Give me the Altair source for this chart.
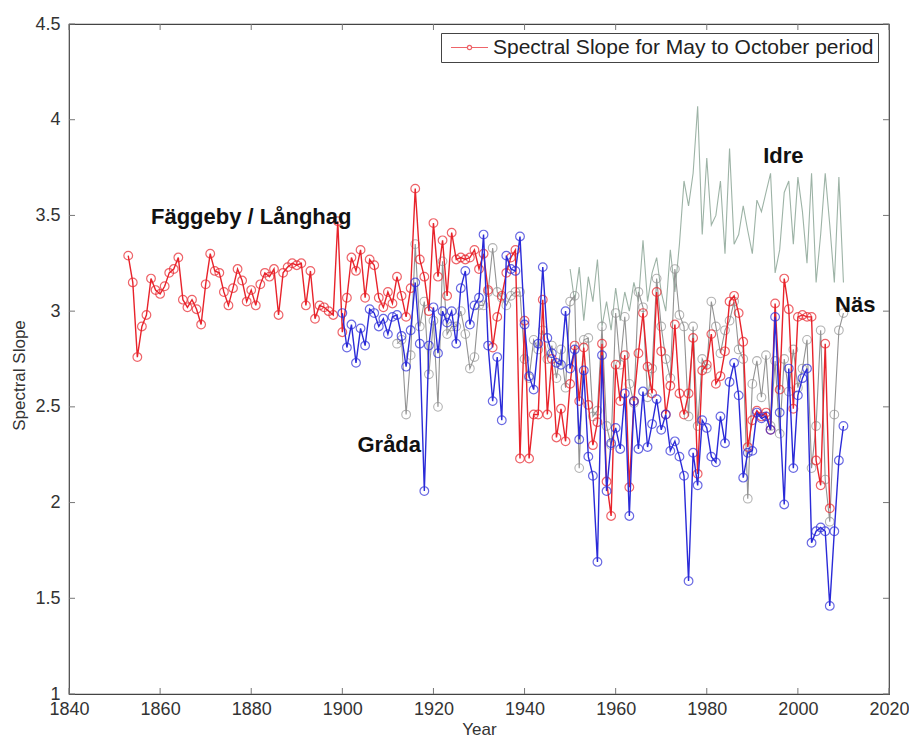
import altair as alt
import pandas as pd

# ---------------- data ----------------
red_years = list(range(1853, 2008))
red_values = [
    3.29, 3.15, 2.76, 2.92, 2.98, 3.17, 3.11,
    3.09, 3.13, 3.20, 3.22, 3.28, 3.06, 3.02, 3.06, 3.01, 2.93,
    3.14, 3.30, 3.21, 3.20, 3.10, 3.03, 3.12, 3.22, 3.16, 3.05,
    3.11, 3.03, 3.14, 3.20, 3.18, 3.22, 2.98, 3.20, 3.23, 3.25,
    3.24, 3.25, 3.03, 3.21, 2.96, 3.03, 3.02, 3.00, 2.98, 3.47,
    2.89, 3.07, 3.28, 3.21, 3.32, 3.07, 3.27, 3.24, 3.07, 3.02,
    3.10, 3.04, 3.18, 3.08, 2.97, 3.12, 3.64, 3.27, 3.18, 3.00,
    3.46, 3.18, 3.37, 3.08, 3.41, 3.27, 3.28, 3.27, 3.28, 3.32,
    3.22, 3.30, 3.11, 2.81, 2.97, 3.08, 3.20, 3.28, 3.32, 2.23,
    2.95, 2.23, 2.46, 2.46, 3.06, 2.46, 2.75, 2.34, 2.49, 2.32,
    2.62, 2.82, 2.53, 2.81, 2.51, 2.30, 2.42, 2.83, 2.11, 1.93,
    2.72, 2.53, 2.77, 2.08, 2.53, 2.78, 2.99, 2.71, 2.57, 3.10,
    2.79, 2.46, 2.61, 2.93, 2.57, 2.46, 2.57, 2.86, 2.15, 2.69,
    2.72, 2.88, 2.62, 2.66, 2.79, 3.05, 3.08, 2.99, 2.84, 2.29,
    2.43, 2.48, 2.45, 2.47, 2.38, 3.04, 2.59, 3.17, 3.01, 2.49,
    2.97, 2.98, 2.97, 2.97, 2.22, 2.09, 2.83, 1.97,
]

blue_years = list(range(1900, 2011))
blue_values = [
    2.99, 2.81, 2.93, 2.73, 2.91, 2.82, 3.01, 2.99, 2.92, 2.96,
    2.88, 2.97, 2.98, 2.87, 2.71, 2.90, 3.15, 2.83, 2.06, 2.82,
    3.02, 2.78, 3.00, 2.94, 3.00, 2.83, 3.12, 3.21, 2.93, 3.03,
    3.07, 3.40, 2.82, 2.53, 2.76, 2.43, 3.29, 3.22, 3.21, 3.39,
    2.93, 2.66, 2.59, 2.83, 3.23, 2.86, 2.78, 2.73, 2.72, 3.00,
    2.70, 2.80, 2.33, 2.69, 2.24, 2.14, 1.69, 2.77, 2.06, 2.31,
    2.39, 2.28, 2.57, 1.93, 2.53, 2.28, 2.58, 2.29, 2.41, 2.54,
    2.38, 2.46, 2.27, 2.32, 2.24, 2.14, 1.59, 2.26, 2.09, 2.43,
    2.39, 2.24, 2.21, 2.45, 2.31, 2.63, 2.73, 2.56, 2.13, 2.26,
    2.27, 2.47, 2.44, 2.45, 2.38, 2.97, 2.47, 1.99, 2.70, 2.18,
    2.56, 2.65, 2.70, 1.79, 1.85, 1.87, 1.85, 1.46, 1.85, 2.22, 2.40,
]

nas_years = list(range(1912, 2011))
nas_values = [
    2.83, 2.85, 2.46, 2.77, 3.35, 2.92, 3.05, 2.67,
    2.95, 2.50, 3.26, 2.88, 2.92, 2.92, 3.00, 2.88, 2.70, 2.76,
    3.03, 3.03, 3.10, 3.33, 3.10, 3.07, 3.03, 3.08, 3.10, 3.10,
    2.75, 2.65, 2.85, 2.80, 2.90, 2.75, 2.82, 2.65, 2.80, 2.60,
    3.05, 3.08, 2.18, 2.85, 2.86, 2.45, 2.48, 2.92, 2.40, 2.30,
    2.99, 2.72, 2.97, 2.62, 2.52, 3.10, 3.02, 2.55, 2.70, 3.17,
    2.92, 2.75, 2.65, 3.22, 2.98, 2.92, 2.45, 2.92, 2.40, 2.75,
    2.70, 3.05, 2.92, 2.78, 2.90, 2.95, 3.05, 2.80, 2.75, 2.02,
    2.62, 2.74, 2.55, 2.77, 2.40, 2.74, 2.36, 2.75, 2.58, 2.80,
    2.60, 2.70, 2.85, 2.18, 2.40, 2.90, 2.12, 1.90, 2.46, 2.90, 2.99,
]

idre_years = list(range(1950, 2011))
idre_values = [
    3.22, 3.05, 3.23, 2.95, 3.18, 3.05, 3.27, 2.92, 3.05, 2.90,
    3.12, 2.95, 3.10, 3.00, 3.15, 3.05, 3.37, 3.05, 3.20, 3.28,
    3.10, 3.00, 3.32, 3.10, 3.35, 3.68, 3.55, 3.72, 4.07, 3.40,
    3.80, 3.45, 3.50, 3.68, 3.30, 3.85, 3.35, 3.40, 3.55, 3.42,
    3.30, 3.58, 3.52, 3.62, 3.72, 3.20, 3.32, 3.62, 3.68, 3.35,
    3.70, 3.52, 3.25, 3.72, 3.15, 3.40, 3.72, 3.45, 3.15, 3.70, 3.15,
]

site_labels = ["Fäggeby / Långhag", "Gråda", "Idre", "Näs"]
site_label_years = [1880.0, 1910.3, 1996.8, 2012.6]
site_label_values = [3.49, 2.30, 3.81, 3.03]

legend_label = "Spectral Slope for May to October period"
x_ticks = [1840, 1860, 1880, 1900, 1920, 1940, 1960, 1980, 2000, 2020]
y_ticks = [1, 1.5, 2, 2.5, 3, 3.5, 4, 4.5]

# ---------------- styling ----------------
RED = "#e8232b"
BLUE = "#2a2ad8"
GRAY = "#939393"
IDRE = "#9db3a6"
FONT = "Liberation Sans"
W, H = 820, 670

red_df = pd.DataFrame({"year": red_years, "value": red_values, "label": legend_label})
blue_df = pd.DataFrame({"year": blue_years, "value": blue_values})
nas_df = pd.DataFrame({"year": nas_years, "value": nas_values})
idre_df = pd.DataFrame({"year": idre_years, "value": idre_values})
labels_df = pd.DataFrame({"text": site_labels, "year": site_label_years, "value": site_label_values})
xt_df = pd.DataFrame({"year": x_ticks})
yt_df = pd.DataFrame({"value": y_ticks})

xs = alt.Scale(domain=[1840, 2020], nice=False, zero=False)
ys = alt.Scale(domain=[1, 4.5], nice=False, zero=False)

x_axis = alt.Axis(values=x_ticks, format="d", grid=False, ticks=False, domain=False,
                  labelFont=FONT, labelFontSize=18, labelColor="#333", labelPadding=6,
                  title="Year", titleFont=FONT, titleFontSize=17, titleFontWeight="normal",
                  titleColor="#333", titlePadding=3, labelFlush=False)
y_axis = alt.Axis(values=y_ticks, format="~g", grid=False, ticks=False, domain=False,
                  labelFont=FONT, labelFontSize=18, labelColor="#333", labelPadding=9,
                  title="Spectral Slope", titleFont=FONT, titleFontSize=17,
                  titleFontWeight="normal", titleColor="#333", titleX=-41, titleY=H / 2 + 16,
                  labelFlush=False)

X = alt.X("year:Q", scale=xs, axis=x_axis)
Y = alt.Y("value:Q", scale=ys, axis=y_axis)

idre = alt.Chart(idre_df).mark_line(color=IDRE, strokeWidth=1.1).encode(x=X, y=Y)

nas_line = alt.Chart(nas_df).mark_line(color=GRAY, strokeWidth=1.1).encode(x=X, y=Y)
nas_pts = alt.Chart(nas_df).mark_point(color=GRAY, filled=False, size=75, strokeWidth=1.1).encode(x=X, y=Y)

legend_symbol = "M-3.7,0L-0.42,0M0.42,0L3.7,0M-0.42,0A0.42,0.42,0,1,1,0.42,0A0.42,0.42,0,1,1,-0.42,0"
red_color = alt.Color("label:N", scale=alt.Scale(domain=[legend_label], range=[RED]),
                      legend=alt.Legend(orient="none", legendX=372, legendY=9, title=None,
                                        symbolType=legend_symbol, symbolSize=100,
                                        symbolStrokeColor=RED, symbolFillColor="transparent",
                                        symbolStrokeWidth=1.2, symbolOffset=14, labelOffset=13,
                                        labelFont=FONT, labelFontSize=21, labelColor="#222",
                                        labelLimit=0, padding=4, strokeColor="#444",
                                        fillColor="white", cornerRadius=0))
red_line = alt.Chart(red_df).mark_line(strokeWidth=1.4).encode(x=X, y=Y, color=red_color)
red_pts = alt.Chart(red_df).mark_point(filled=False, size=75, strokeWidth=1.2).encode(x=X, y=Y, color=red_color)

blue_line = alt.Chart(blue_df).mark_line(color=BLUE, strokeWidth=1.4).encode(x=X, y=Y)
blue_pts = alt.Chart(blue_df).mark_point(color=BLUE, filled=False, size=75, strokeWidth=1.2).encode(x=X, y=Y)

texts = alt.Chart(labels_df).mark_text(font=FONT, fontSize=22, fontWeight="bold", color="#111",
                                       align="center", baseline="middle").encode(
    x=X, y=Y, text="text:N")

tick_style = dict(color="#777", strokeWidth=1)
yt_left = alt.Chart(yt_df).mark_rule(**tick_style).encode(y=Y, x=alt.value(0), x2=alt.value(6))
yt_right = alt.Chart(yt_df).mark_rule(**tick_style).encode(y=Y, x=alt.value(W - 6), x2=alt.value(W))
xt_bottom = alt.Chart(xt_df).mark_rule(**tick_style).encode(x=X, y=alt.value(H - 6), y2=alt.value(H))
xt_top = alt.Chart(xt_df).mark_rule(**tick_style).encode(x=X, y=alt.value(0), y2=alt.value(6))

chart = alt.layer(
    idre, nas_line, nas_pts, red_line, red_pts, blue_line, blue_pts, texts,
    yt_left, yt_right, xt_bottom, xt_top,
).properties(
    width=W, height=H,
    autosize=alt.AutoSizeParams(type="none"),
    padding={"left": 61, "top": 16, "right": 20, "bottom": 44},
    background="white",
).configure_view(stroke="#444", strokeWidth=1.2)

chart.save("out.html", embed_options={"renderer": "svg", "actions": False})
